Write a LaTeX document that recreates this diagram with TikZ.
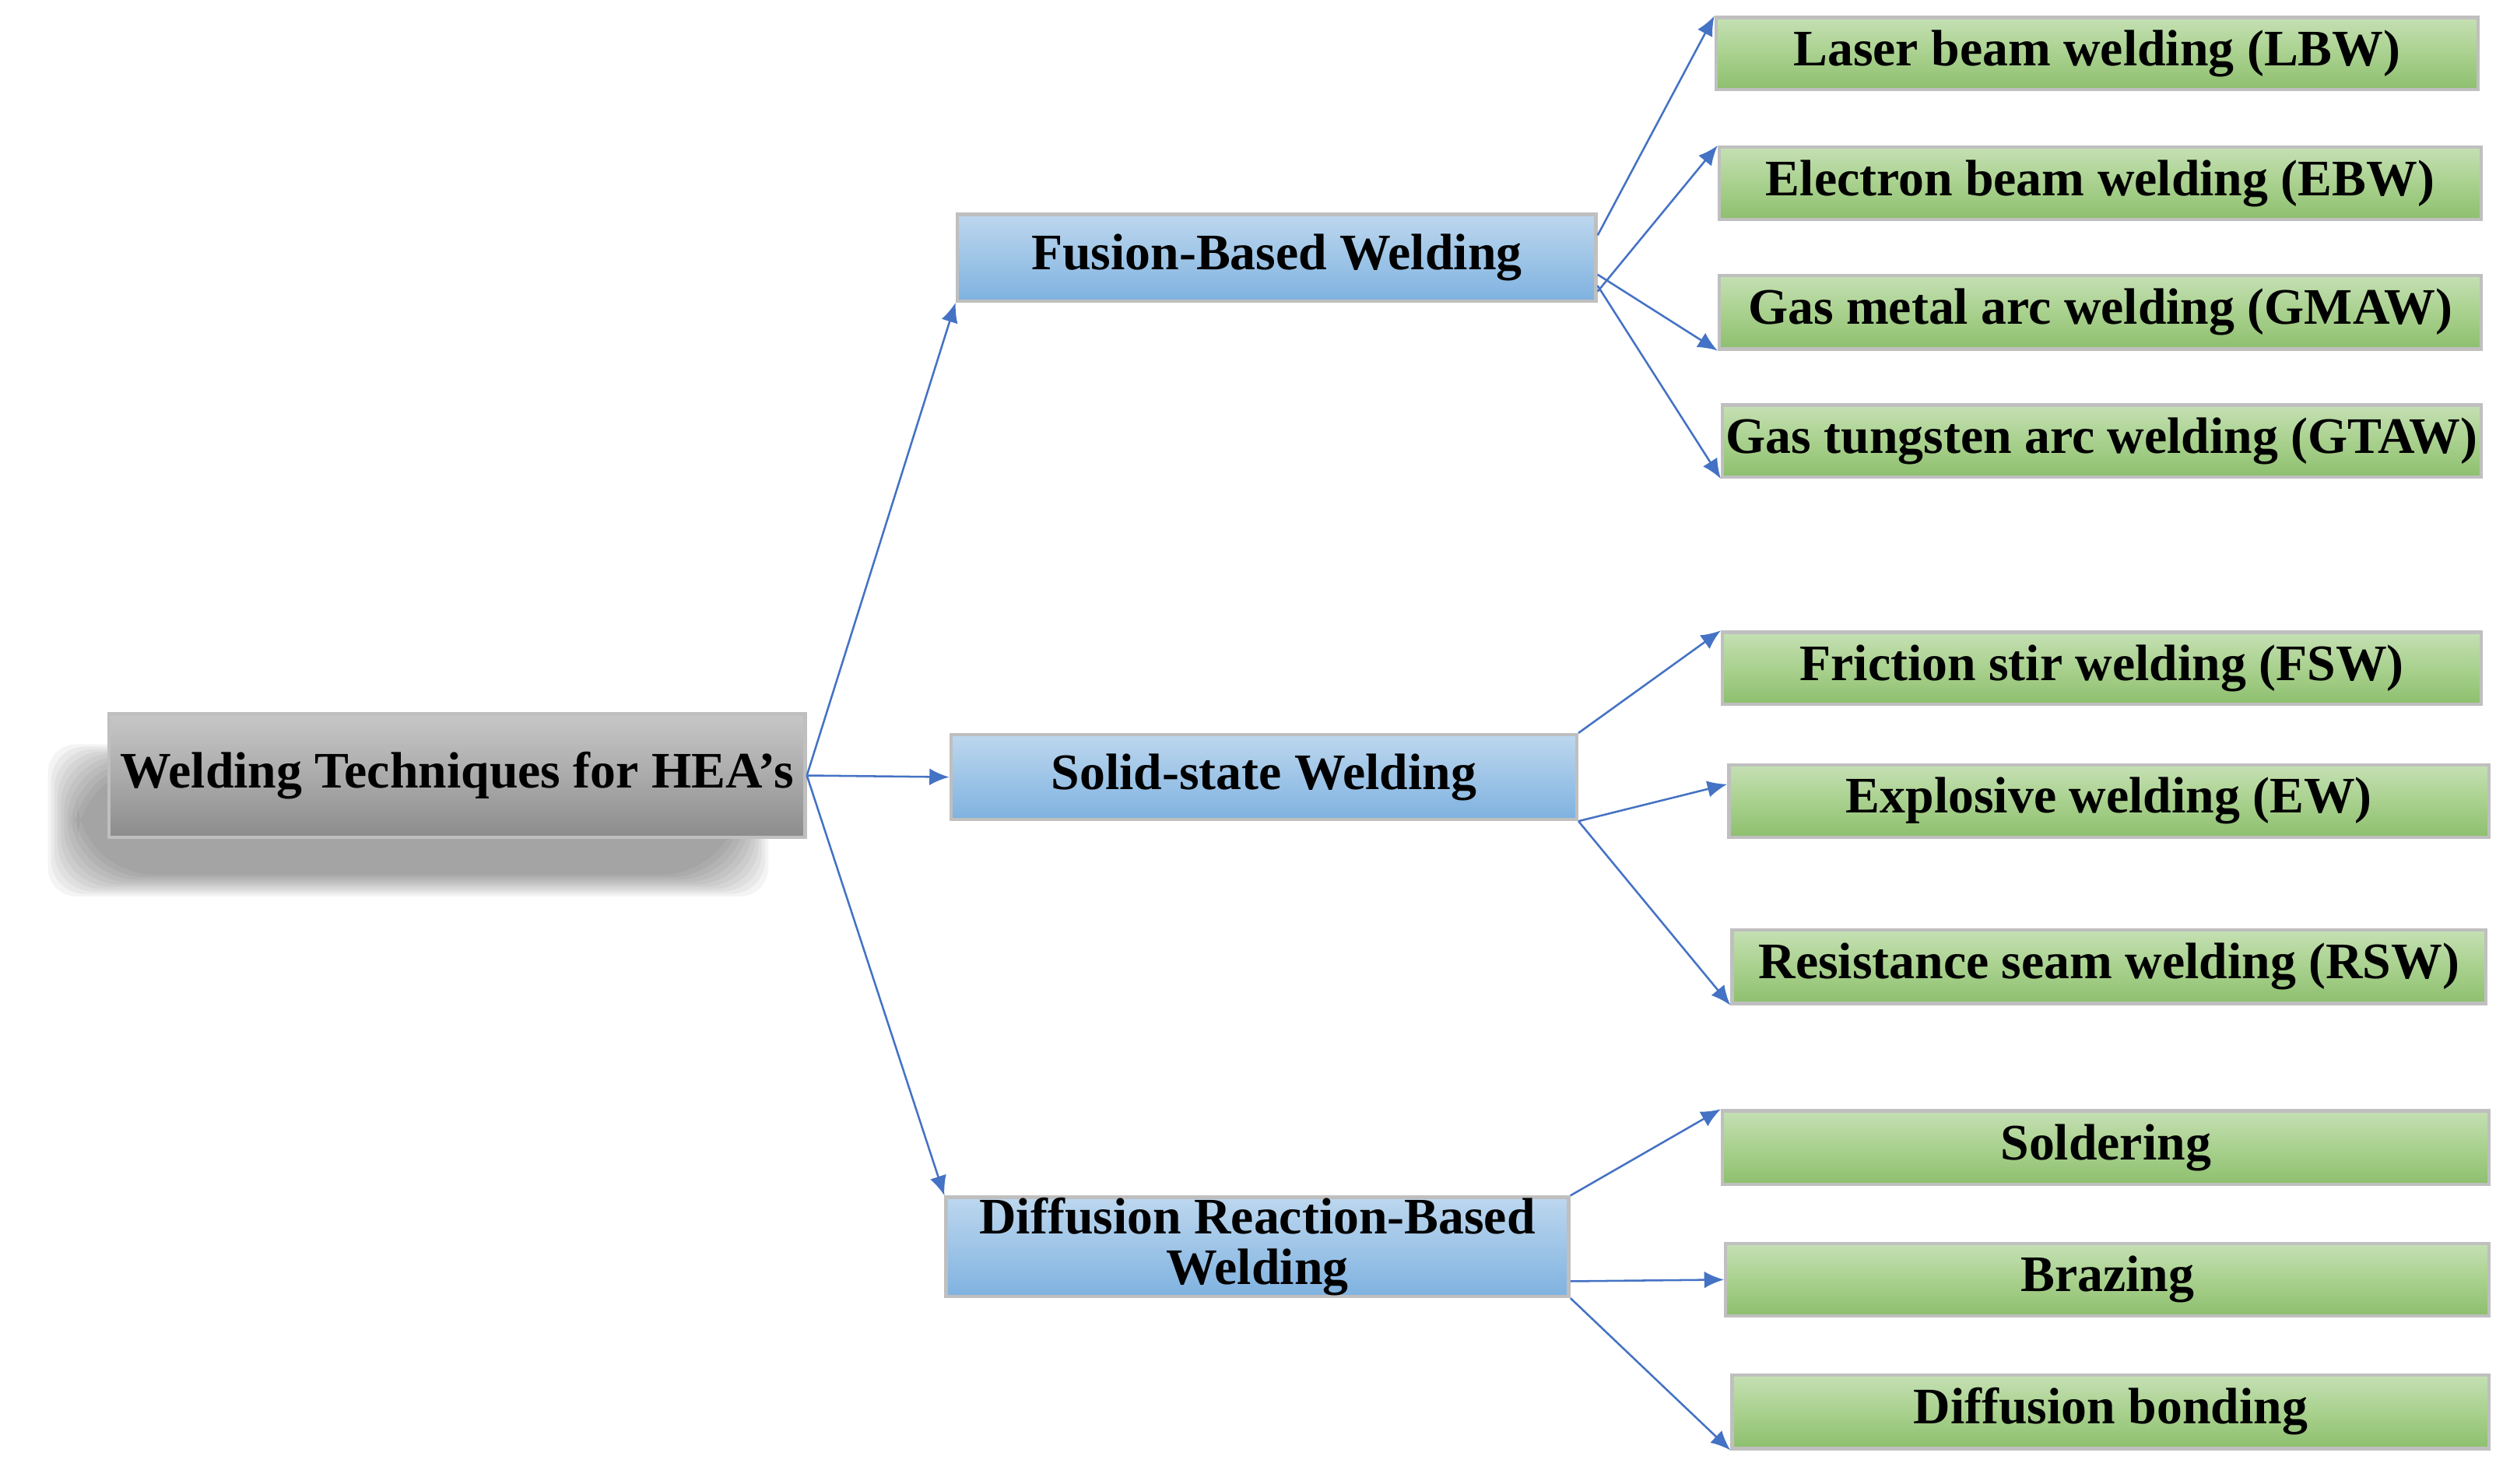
\documentclass[tikz,border=0pt]{standalone}
\usepackage{fontspec}
\setmainfont{Liberation Serif}
\usetikzlibrary{shadows,arrows.meta}
\definecolor{gtop}{HTML}{C5E0B4}
\definecolor{gmid}{HTML}{A9D18E}
\definecolor{gbot}{HTML}{8DBF6E}
\definecolor{btop}{HTML}{BDD7EE}
\definecolor{bbot}{HTML}{7FB2E0}
\definecolor{arrc}{HTML}{4472C4}
\begin{document}
\begin{tikzpicture}[x=0.02cm,y=-0.02cm,
 box/.style={draw=white!75!black,line width=1.2pt,inner sep=0pt,font=\fontsize{18.2}{20}\selectfont\bfseries},
 gbox/.style={box,top color=gtop,bottom color=gbot,middle color=gmid},
 bbox/.style={box,top color=btop,bottom color=bbot},
 arr/.style={-{Latex[length=7pt,width=6pt]},color=arrc,line width=0.7pt}]
\useasboundingbox (0,0) rectangle (1568,927);
\def\bx#1#2#3#4#5#6#7{\node[#2,minimum width={(#5-#3)*0.02cm},minimum height={(#6-#4)*0.02cm}] (#1) at ({(#3+#5)/2},{(#4+#6)/2}) {#7};}
\foreach \i in {0,...,9}{
 \fill[black,opacity=0.045,rounded corners={(10+2*\i)*1pt}] ({30+2*\i},{465+1.5*\i}) rectangle ({480-2*\i},{560-1.5*\i});}
\bx{root}{box,top color=black!22,bottom color=black!45,middle color=black!33}{68}{446}{503}{523}{Welding Techniques for HEA’s}
\bx{fus}{bbox}{598}{134}{997}{188}{Fusion-Based Welding}
\bx{sol}{bbox}{594}{459}{985}{512}{Solid-state Welding}
\bx{dif}{bbox,align=center}{591}{748}{980}{810}{Diffusion Reaction-Based\\[-2pt]Welding}
\bx{lbw}{gbox}{1072}{11}{1548}{56}{Laser beam welding (LBW)}
\bx{ebw}{gbox}{1074}{92}{1550}{137}{Electron beam welding (EBW)}
\bx{gmaw}{gbox}{1074}{172}{1550}{218}{Gas metal arc welding (GMAW)}
\bx{gtaw}{gbox}{1076}{253}{1550}{298}{Gas tungsten arc welding (GTAW)}
\bx{fsw}{gbox}{1076}{395}{1550}{440}{Friction stir welding (FSW)}
\bx{ew}{gbox}{1080}{478}{1555}{523}{Explosive welding (EW)}
\bx{rsw}{gbox}{1082}{581}{1553}{627}{Resistance seam welding (RSW)}
\bx{sold}{gbox}{1076}{694}{1555}{740}{Soldering}
\bx{braz}{gbox}{1078}{777}{1555}{822}{Brazing}
\bx{dbond}{gbox}{1082}{859}{1555}{905}{Diffusion bonding}
\draw[arr] (root.east) -- (fus.south west);
\draw[arr] (root.east) -- (sol.west);
\draw[arr] (root.east) -- (dif.north west);
\draw[arr] ([yshift=-8pt]fus.north east) -- (lbw.north west);
\draw[arr] ([yshift=-12pt]fus.east) -- (ebw.north west);
\draw[arr] ([yshift=-6pt]fus.east) -- (gmaw.south west);
\draw[arr] ([yshift=6pt]fus.south east) -- (gtaw.south west);
\draw[arr] (sol.north east) -- (fsw.north west);
\draw[arr] (sol.south east) -- ([yshift=6pt]ew.west);
\draw[arr] (sol.south east) -- (rsw.south west);
\draw[arr] (dif.north east) -- (sold.north west);
\draw[arr] ([yshift=6pt]dif.south east) -- (braz.west);
\draw[arr] (dif.south east) -- (dbond.south west);
\end{tikzpicture}
\end{document}
